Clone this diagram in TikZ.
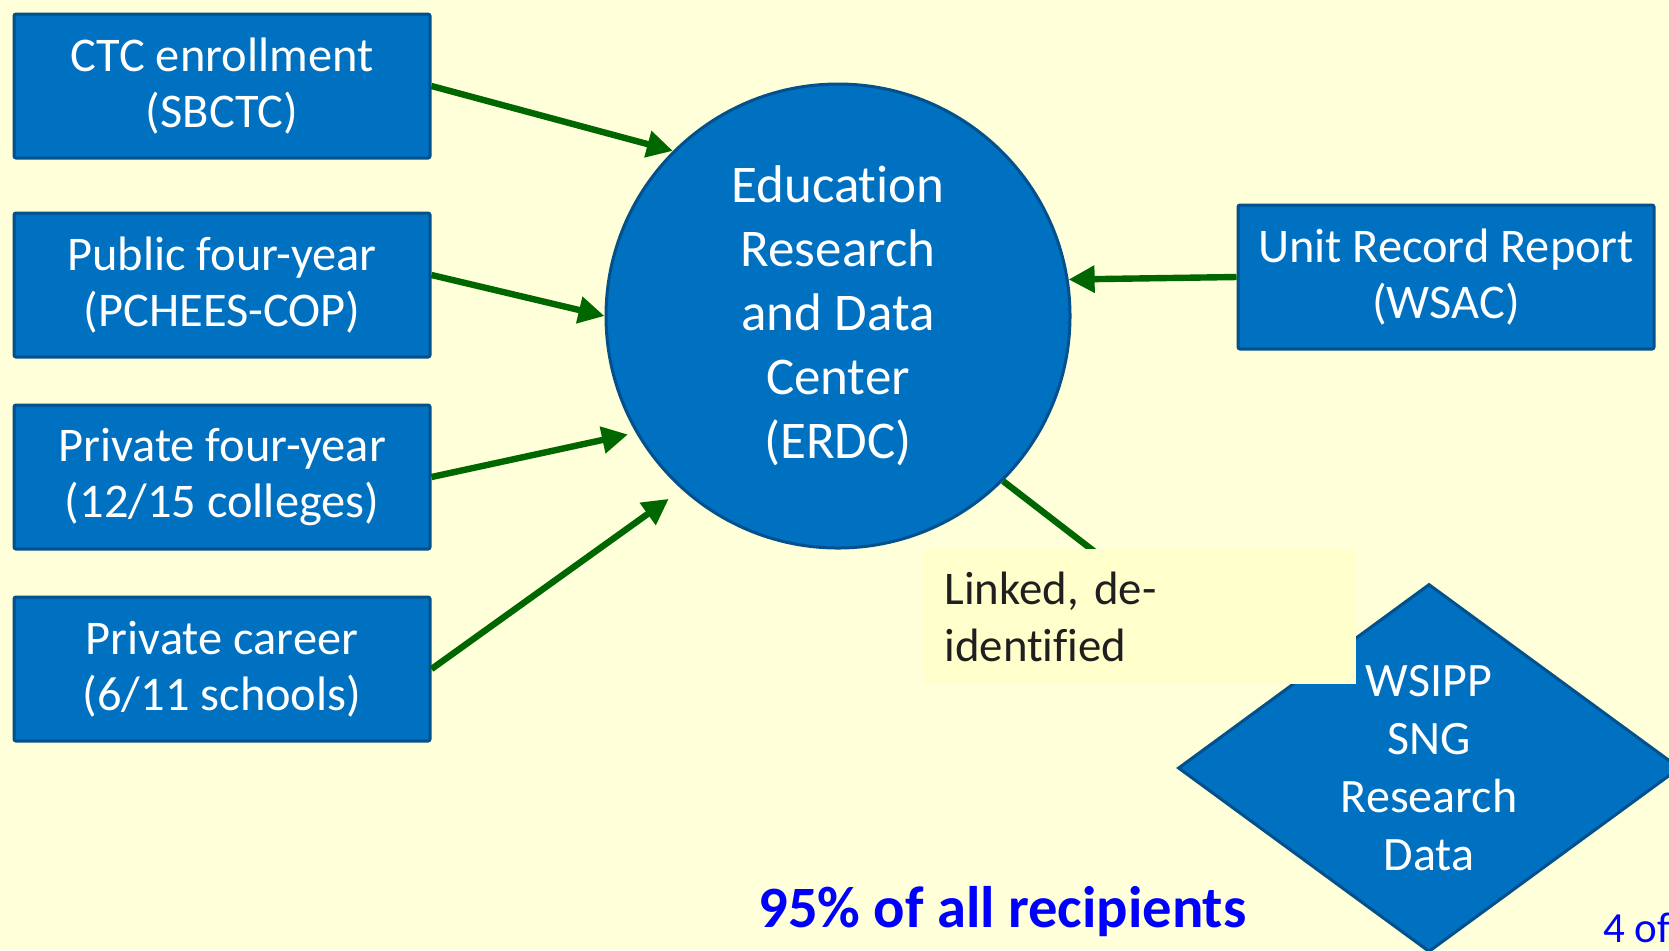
\documentclass[tikz,border=0pt]{standalone}
\usepackage{fontspec}
\setmainfont{Carlito}[Ligatures=NoCommon]
\usepackage{xcolor}
\usepackage{tikz}
\usetikzlibrary{shapes.geometric, arrows.meta, positioning, calc}
\definecolor{boxblue}{RGB}{0,112,192}
\definecolor{edgeblue}{RGB}{2,80,140}
\definecolor{flowgreen}{RGB}{0,102,0}
\definecolor{slideyellow}{RGB}{255,255,218}
\definecolor{noteyellow}{RGB}{255,255,204}
\definecolor{footblue}{RGB}{0,0,255}

\begin{document}
\begin{tikzpicture}[x=0.5pt, y=-0.5pt,
    srcbox/.style={rectangle, rounded corners=1pt, fill=boxblue, draw=edgeblue, line width=1.5pt,
        minimum width=208pt, minimum height=72pt, text=white, align=center,
        font=\fontsize{24.2}{28}\selectfont},
    flow/.style={-{Triangle[length=13pt,width=13pt]}, flowgreen, line width=3.2pt}]
    % Slide
    \useasboundingbox (0,0) rectangle (1669,950);
    \clip (0,0) rectangle (1669,950);
    \fill[slideyellow] (0,0) rectangle (1669,950);

    % Sources
    \node[srcbox] (ctc) at (222,86) {CTC enrollment\\(SBCTC)};
    \node[srcbox] (pubfour) at (222,285) {Public four-year\\(PCHEES-COP)};
    \node[srcbox] (privfour) at (222,477) {Private four-year\\(12/15 colleges)};
    \node[srcbox] (career) at (222,669) {Private career\\(6/11 schools)};
    \node[srcbox] (wsac) at (1446,277) {Unit Record Report\\(WSAC)};

    % ERDC
    \node[circle, fill=boxblue, draw=edgeblue, line width=1.5pt, minimum size=232pt, inner sep=0pt,
        text=white, align=center, font=\fontsize{26.5}{32}\selectfont]
        (erdc) at (838,316) {Education\\Research\\and Data\\Center\\(ERDC)};

    % WSIPP
    \node[diamond, aspect=1.36, fill=boxblue, draw=edgeblue, line width=1.5pt, inner sep=0pt,
        minimum width=251pt, minimum height=184pt, text=white, align=center,
        font=\fontsize{24}{29}\selectfont]
        (wsipp) at (1429,768) {WSIPP\\SNG\\Research\\Data};

    % Data flow
    \draw[flow] (ctc.east) -- (erdc.135);
    \draw[flow] ([yshift=5pt]pubfour.east) -- (erdc.180);
    \draw[flow, shorten >=4pt] (privfour.east) -- (erdc.210);
    \draw[flow, shorten >=8pt] (career.east) -- (erdc.228);
    \draw[flow] (wsac.west) -- (erdc.9.5);
    \coordinate (linkend) at (1200,633);
    \draw[flowgreen, line width=3.2pt] (erdc.-45) -- (linkend);

    \node[anchor=north west, fill=noteyellow, inner xsep=10pt, text width=196pt, minimum height=67.5pt,
        align=left, text=black!88, font=\fontsize{23.4}{28.5}\selectfont]
        (linked) at (924,549) {Linked, de-\\identified};

    \node[anchor=base west, text=footblue, inner sep=0pt, font=\fontsize{29.3}{34}\selectfont\bfseries]
        (share) at (758,927) {95\% of all recipients};
    \node[anchor=base west, text=footblue, inner sep=0pt, font=\fontsize{21.5}{25}\selectfont]
        (pageno) at (1603,942) {4 of};
\end{tikzpicture}
\end{document}
